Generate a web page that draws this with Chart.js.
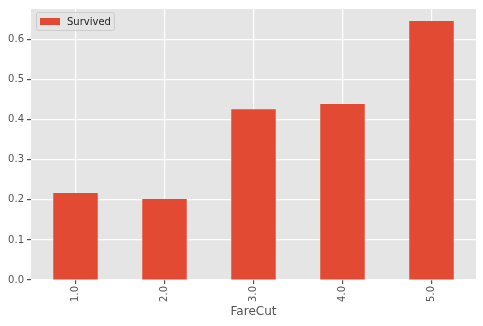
<!DOCTYPE html>
<html lang="en">
<head>
    <meta charset="UTF-8">
    <title>Survived by FareCut</title>
    <script src="https://cdn.jsdelivr.net/npm/chart.js"></script>
    <style>
        html, body { margin: 0; padding: 0; background: #ffffff; }
        #wrap { position: relative; width: 483px; height: 326px; }
    </style>
</head>
<body>
    <div id="wrap"><canvas id="chart" width="483" height="326"></canvas></div>

    <script>
        // data
        const fareCuts = ['1.0', '2.0', '3.0', '4.0', '5.0'];
        const survived = [0.217, 0.202, 0.426, 0.439, 0.646];
        const yTicks = [0, 0.1, 0.2, 0.3, 0.4, 0.5, 0.6];

        const tickGray = '#555555';

        // legend box drawn inside the plot area, ggplot style
        const boxLegend = {
            id: 'boxLegend',
            afterDraw(chart) {
                const ctx = chart.ctx;
                const area = chart.chartArea;
                const ds = chart.data.datasets[0];
                const x = area.left + 5, y = area.top + 4;
                ctx.save();
                ctx.font = '10px "DejaVu Sans", sans-serif';
                const w = 20 + 8 + ctx.measureText(ds.label).width + 6;
                ctx.fillStyle = 'rgba(229,229,229,0.8)';
                ctx.strokeStyle = '#cccccc';
                ctx.lineWidth = 1;
                ctx.beginPath();
                ctx.roundRect(x + 0.5, y - 0.5, w, 18, 2);
                ctx.fill();
                ctx.stroke();
                ctx.fillStyle = ds.backgroundColor;
                ctx.fillRect(x + 4, y + 5, 20, 7);
                ctx.fillStyle = '#222222';
                ctx.textBaseline = 'middle';
                ctx.fillText(ds.label, x + 31, y + 9);
                ctx.restore();
            }
        };

        const bgPlugin = {
            id: 'plotBg',
            beforeDraw(chart) {
                const a = chart.chartArea;
                chart.ctx.save();
                chart.ctx.fillStyle = '#e5e5e5';
                chart.ctx.fillRect(a.left, a.top, a.right - a.left, a.bottom - a.top);
                chart.ctx.restore();
            }
        };

        new Chart(document.getElementById('chart'), {
            type: 'bar',
            data: {
                labels: fareCuts,
                datasets: [{
                    label: 'Survived',
                    data: survived,
                    backgroundColor: '#e24a33',
                    borderWidth: 0,
                    categoryPercentage: 1.0,
                    barPercentage: 0.5
                }]
            },
            options: {
                responsive: false,
                animation: false,
                layout: { padding: { top: 8, right: 7, left: 0, bottom: 0 } },
                plugins: {
                    legend: { display: false },
                    tooltip: { enabled: false }
                },
                scales: {
                    x: {
                        offset: true,
                        grid: {
                            offset: false,
                            color: '#ffffff',
                            lineWidth: 1.2,
                            tickColor: tickGray,
                            tickLength: 4,
                            drawOnChartArea: true
                        },
                        border: { display: false },
                        ticks: {
                            color: tickGray,
                            font: { family: '"DejaVu Sans", sans-serif', size: 10 },
                            minRotation: 90,
                            maxRotation: 90,
                            padding: 2
                        },
                        title: {
                            display: true,
                            text: 'FareCut',
                            color: tickGray,
                            font: { family: '"DejaVu Sans", sans-serif', size: 12 },
                            padding: { top: 2, bottom: 7 }
                        },
                        afterFit(scale) { scale.height = 46; }
                    },
                    y: {
                        min: 0,
                        max: 0.676,
                        grid: {
                            color: '#ffffff',
                            lineWidth: 1.2,
                            tickColor: tickGray,
                            tickLength: 4
                        },
                        border: { display: false },
                        afterBuildTicks(scale) {
                            scale.ticks = yTicks.map(v => ({ value: v }));
                        },
                        ticks: {
                            color: tickGray,
                            font: { family: '"DejaVu Sans", sans-serif', size: 10 },
                            padding: 3,
                            callback: v => Number(v).toFixed(1)
                        },
                        afterFit(scale) { scale.width = 31; }
                    }
                }
            },
            plugins: [bgPlugin, boxLegend]
        });
    </script>
</body>
</html>
